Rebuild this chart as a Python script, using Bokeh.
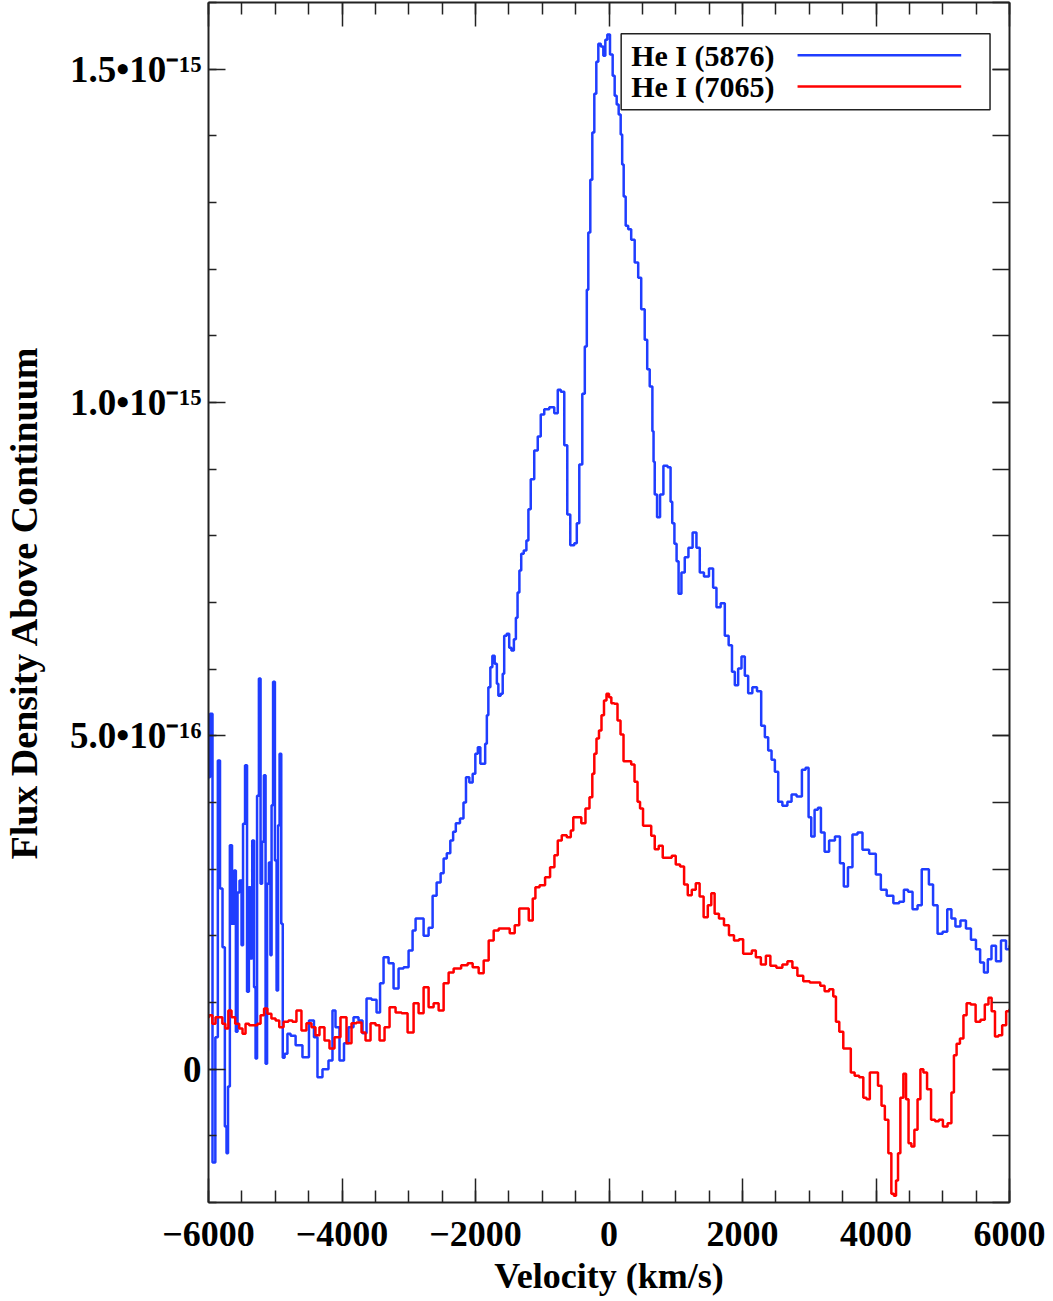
import numpy as np
from bokeh.plotting import figure
from bokeh.models import Range1d, LinearAxis, FixedTicker
from bokeh.core.properties import value
from bokeh.embed import file_html
from bokeh.resources import INLINE

# ---------------- data ----------------
X_TICKS = [-6000, -4000, -2000, 0, 2000, 4000, 6000]
X_TICK_LABELS = ["\u22126000", "\u22124000", "\u22122000", "0", "2000", "4000", "6000"]
Y_TICKS = [0.0, 5e-16, 1e-15, 1.5e-15]
Y_TICK_LABELS = ["0", "5.0\u202210\u207b\u00b9\u2076", "1.0\u202210\u207b\u00b9\u2075", "1.5\u202210\u207b\u00b9\u2075"]
SERIES_NAMES = ["He I (5876)", "He I (7065)"]
FLUX_UNIT = 1e-16  # values below are in units of 1e-16

BLUE_V = [-6020, -5995, -5960, -5920, -5875, -5845, -5810, -5770, -5740, -5720,
          -5695, -5665, -5630, -5605, -5575, -5555, -5515, -5495, -5470, -5435,
          -5410, -5380, -5360, -5330, -5305, -5285, -5260, -5230, -5210, -5185,
          -5155, -5135, -5110, -5080, -5065, -5045, -5020, -4990, -4970, -4945,
          -4925, -4895, -4880, -4840, -4795, -4745,
          -4645, -4540, -4450, -4390, -4345, -4240, -4165, -4120, -4075, -4000,
          -3940, -3865, -3790, -3715, -3670, -3595, -3520, -3445, -3415, -3340,
          -3265, -3190, -3115, -3040, -2965, -2920, -2875, -2815, -2740, -2665,
          -2620, -2545, -2500, -2455, -2405, -2350, -2320, -2270, -2195, -2165,
          -2120, -2065, -2020, -1985, -1945, -1910, -1870, -1840, -1820, -1795,
          -1760, -1735, -1690, -1670, -1645, -1600, -1585, -1555, -1510, -1480,
          -1445, -1405, -1385, -1355, -1330, -1300, -1255, -1220, -1195, -1150,
          -1090, -1045, -1000, -940, -850, -790, -745, -700, -640, -610,
          -550, -490, -475, -415, -385, -340, -325, -295, -265, -235,
          -205, -175, -145, -100, -70, -40, -10, 40, 70, 100,
          130, 160, 190, 205, 235, 265, 310, 355, 415, 460,
          505, 565, 580, 640, 660, 675, 695, 745, 785, 845,
          910, 935, 960, 1000, 1025, 1060, 1110, 1160, 1220, 1285,
          1335, 1385, 1460, 1535, 1585, 1635, 1710, 1760, 1825, 1860,
          1910, 1960, 2010, 2060, 2110, 2185, 2250, 2310, 2360, 2410,
          2460, 2510, 2560, 2635, 2710, 2760, 2860, 2920, 2970, 3010,
          3050, 3110, 3150, 3200, 3260, 3335, 3435, 3485, 3550, 3610,
          3685, 3760, 3835, 3960, 4035, 4110, 4210, 4310, 4385, 4450,
          4510, 4585, 4660, 4710, 4760, 4825, 4885, 4960, 5035, 5100,
          5160, 5220, 5310, 5385, 5460, 5535, 5585, 5650, 5700, 5760,
          5835, 5910, 5985, 6020]
BLUE_F = [0.28, 4.38, 5.33, -1.40, 0.48, 4.63, 2.71, 1.83, -0.86, -1.26,
          -0.26, 3.36, 2.18, 2.98, 0.56, 2.65, 2.83, 1.86, 3.68, 4.56,
          1.16, 2.73, 1.66, 3.43, 1.23, 0.16, 4.10, 5.86, 2.78, 3.41,
          4.41, 0.08, 2.78, 3.10, 1.71, 3.96, 5.81, 3.13, 1.18, 3.66,
          4.73, 2.18, 0.17, 0.23, 0.53, 0.50,
          0.36, 0.18, 0.73, 0.48, -0.12, 0.00, 0.13, 0.88, 0.63, 0.13,
          0.39, 0.63, 0.78, 0.73, 0.54, 1.06, 1.04, 0.85, 1.29, 1.68,
          1.59, 1.21, 1.51, 1.53, 1.78, 2.08, 2.26, 2.26, 2.00, 2.12,
          2.60, 2.80, 2.94, 3.16, 3.24, 3.43, 3.56, 3.69, 3.76, 4.00,
          4.38, 4.30, 4.43, 4.73, 4.83, 4.58, 4.58, 4.88, 5.31, 5.73,
          6.03, 6.20, 6.08, 5.78, 5.60, 5.63, 5.93, 6.50, 6.53, 6.32,
          6.28, 6.45, 6.77, 7.15, 7.48, 7.73, 7.78, 7.93, 8.40, 8.85,
          9.28, 9.49, 9.82, 9.90, 9.93, 9.84, 10.19, 10.16, 9.36, 8.32,
          7.86, 7.89, 8.19, 9.07, 10.13, 10.84, 11.69, 12.55, 13.34, 14.05,
          14.63, 15.11, 15.38, 15.34, 15.20, 15.44, 15.52, 15.22, 14.90, 14.60,
          14.47, 14.32, 14.02, 13.57, 13.09, 12.65, 12.60, 12.44, 12.10, 11.87,
          11.40, 10.94, 10.50, 10.24, 9.57, 9.11, 8.62, 8.28, 8.62, 9.05,
          9.03, 8.51, 8.19, 7.88, 7.62, 7.13, 7.45, 7.68, 7.82, 8.05,
          7.82, 7.45, 7.39, 7.51, 7.22, 6.93, 6.99, 6.50, 6.36, 5.96,
          5.76, 6.01, 6.19, 5.90, 5.64, 5.73, 5.67, 5.15, 4.98, 4.78,
          4.64, 4.46, 4.01, 3.95, 4.01, 4.12, 4.09, 4.49, 4.52, 3.78,
          3.49, 3.89, 3.92, 3.55, 3.26, 3.43, 3.49, 3.09, 2.74, 3.03,
          3.52, 3.55, 3.29, 3.23, 2.92, 2.69, 2.60, 2.49, 2.51, 2.69,
          2.66, 2.40, 2.46, 3.00, 3.00, 2.77, 2.46, 2.03, 2.06, 2.40,
          2.26, 2.14, 2.23, 2.11, 1.94, 1.80, 1.60, 1.45, 1.65, 1.85,
          1.62, 1.93, 1.80, 1.85]

RED_V = [-6020, -5965, -5920, -5870, -5815, -5770, -5725, -5680, -5630, -5570,
         -5510, -5470, -5420, -5365, -5290, -5245, -5195, -5140, -5095, -5020,
         -4970, -4910, -4840, -4765, -4720, -4645, -4570, -4495, -4420, -4375,
         -4300, -4225, -4150, -4075, -3970, -3895, -3820, -3745, -3670, -3625,
         -3520, -3475, -3400, -3325, -3250, -3145, -3070, -2965, -2890, -2815,
         -2740, -2665, -2590, -2515, -2440, -2365, -2290, -2140, -2095, -1990,
         -1915, -1840, -1765, -1690, -1615, -1525, -1450, -1375, -1315, -1240,
         -1165, -1120, -1085, -995, -920, -845, -790, -745, -670, -595,
         -550, -520, -445, -385, -320, -265, -235, -205, -170, -130,
         -95, -55, -20, 20, 50, 110, 145, 200, 235, 310,
         355, 410, 445, 485, 535, 610, 655, 715, 775, 835,
         910, 970, 1030, 1100, 1150, 1210, 1270, 1330, 1385, 1450,
         1510, 1555, 1610, 1685, 1760, 1835, 1910, 1985, 2035, 2110,
         2170, 2230, 2320, 2380, 2455, 2560, 2635, 2710, 2785, 2860,
         2960, 3055, 3130, 3200, 3260, 3335, 3385, 3415, 3485, 3535,
         3595, 3650, 3710, 3785, 3835, 3880, 3935, 4000, 4060, 4105,
         4160, 4210, 4250, 4285, 4315, 4345, 4385, 4435, 4465, 4510,
         4550, 4600, 4645, 4685, 4735, 4795, 4855, 4915, 4970, 5035,
         5110, 5150, 5185, 5230, 5285, 5335, 5380, 5455, 5530, 5600,
         5660, 5710, 5755, 5810, 5860, 5920, 5980, 6020]
RED_F = [0.78, 0.81, 0.68, 0.78, 0.78, 0.68, 0.61, 0.88, 0.78, 0.68,
         0.61, 0.53, 0.68, 0.66, 0.66, 0.68, 0.81, 0.91, 0.83, 0.76,
         0.73, 0.63, 0.71, 0.73, 0.71, 0.88, 0.58, 0.69, 0.63, 0.51,
         0.63, 0.43, 0.31, 0.48, 0.78, 0.39, 0.69, 0.70, 0.55, 0.43,
         0.69, 0.66, 0.43, 0.63, 0.93, 0.85, 0.84, 0.55, 0.99, 0.84,
         1.23, 0.93, 0.99, 0.88, 1.29, 1.45, 1.51, 1.56, 1.59, 1.53,
         1.44, 1.63, 1.93, 2.08, 2.11, 2.11, 2.04, 2.16, 2.41, 2.41,
         2.23, 2.56, 2.73, 2.76, 2.88, 3.03, 3.21, 3.43, 3.51, 3.48,
         3.58, 3.78, 3.78, 3.69, 3.91, 4.08, 4.43, 4.73, 4.96, 5.08,
         5.31, 5.53, 5.63, 5.58, 5.49, 5.48, 5.23, 5.02, 4.62, 4.62,
         4.57, 4.31, 4.01, 3.91, 3.65, 3.65, 3.50, 3.30, 3.35, 3.17,
         3.17, 3.20, 3.07, 3.04, 2.77, 2.61, 2.69, 2.79, 2.59, 2.28,
         2.46, 2.64, 2.33, 2.26, 2.16, 2.01, 1.93, 1.95, 1.73, 1.73,
         1.78, 1.68, 1.57, 1.70, 1.55, 1.52, 1.57, 1.62, 1.52, 1.40,
         1.32, 1.30, 1.30, 1.25, 1.17, 1.20, 1.09, 0.71, 0.56, 0.31,
         0.31, -0.05, -0.10, -0.12, -0.43, -0.45, -0.05, -0.05, -0.25, -0.55,
         -0.76, -1.26, -1.87, -1.90, -1.67, -1.26, -0.43, -0.07, -0.45, -1.11,
         -1.16, -0.91, -0.45, 0.00, -0.05, -0.30, -0.76, -0.78, -0.76, -0.86,
         -0.81, -0.35, 0.21, 0.38, 0.46, 0.81, 0.99, 0.97, 0.71, 0.74,
         0.97, 1.07, 0.87, 0.49, 0.51, 0.66, 0.87, 0.90]

# ---------------- styling ----------------
BLUE = "#1f3dff"
RED = "#ff0000"
FONT = "Liberation Serif"
X_MIN, X_MAX = -6000, 6000
Y_MIN, Y_MAX = -2.0e-16, 1.6e-15

p = figure(width=1053, height=1301, output_backend="svg", toolbar_location=None,
           x_range=Range1d(X_MIN, X_MAX), y_range=Range1d(Y_MIN, Y_MAX),
           x_axis_location=None, y_axis_location=None)
p.min_border_left = 208
p.min_border_right = 44
p.min_border_top = 2
p.min_border_bottom = 99
p.outline_line_color = None
p.xgrid.visible = False
p.ygrid.visible = False
p.background_fill_color = "white"
p.border_fill_color = "white"

x_ticker = FixedTicker(ticks=X_TICKS, minor_ticks=list(range(-6000, 6001, 500)))
y_ticker = FixedTicker(ticks=Y_TICKS, minor_ticks=[k * 1e-16 for k in range(-2, 17)])


def style(ax, major_in, minor_in, show_labels):
    ax.axis_line_color = "#222222"
    ax.axis_line_width = 2
    ax.major_tick_in = major_in
    ax.major_tick_out = 0
    ax.minor_tick_in = minor_in
    ax.minor_tick_out = 0
    ax.major_tick_line_color = "#222222"
    ax.minor_tick_line_color = "#222222"
    ax.major_tick_line_width = 1.5
    ax.minor_tick_line_width = 1.5
    ax.major_label_text_font = FONT
    ax.major_label_text_font_style = "bold"
    ax.major_label_text_color = "black"
    ax.axis_label_text_font = FONT
    ax.axis_label_text_font_style = "bold"
    ax.axis_label_text_color = "black"
    if not show_labels:
        # mirrored frame axis: ticks only
        ax.major_label_text_font_size = "0px"
        ax.major_label_standoff = 0
        ax.axis_label_standoff = 0


xb = LinearAxis(ticker=x_ticker, axis_label="Velocity (km/s)")
style(xb, 24, 12, True)
xb.major_label_overrides = dict(zip(X_TICKS, X_TICK_LABELS))
xb.major_label_text_font_size = "36px"
xb.axis_label_text_font_size = "36px"
xb.major_label_standoff = 19
xb.axis_label_standoff = 7
p.add_layout(xb, "below")

xt = LinearAxis(ticker=x_ticker)
style(xt, 24, 12, False)
p.add_layout(xt, "above")

yl = LinearAxis(ticker=y_ticker, axis_label="Flux Density Above Continuum")
style(yl, 17, 8, True)
yl.major_label_overrides = dict(zip(Y_TICKS, Y_TICK_LABELS))
yl.major_label_text_font_size = "37px"
yl.axis_label_text_font_size = "38px"
yl.major_label_standoff = 7
yl.axis_label_standoff = 22
p.add_layout(yl, "left")

yr = LinearAxis(ticker=y_ticker)
style(yr, 17, 17, False)
p.add_layout(yr, "right")

# ---------------- spectra ----------------
bv = np.array(BLUE_V, dtype=float)
bf = np.array(BLUE_F) * FLUX_UNIT
rv = np.array(RED_V, dtype=float)
rf = np.array(RED_F) * FLUX_UNIT

p.step(bv, bf, mode="center", line_color=BLUE, line_width=2.5)
p.step(rv, rf, mode="center", line_color=RED, line_width=2.5)

# ---------------- legend (text left, sample line right) ----------------
xs = X_MAX - X_MIN
ys = Y_MAX - Y_MIN
leg_left = X_MIN + 0.5152 * xs
leg_right = X_MIN + 0.9757 * xs
leg_top = Y_MIN + 0.9739 * ys
leg_bottom = Y_MIN + 0.9106 * ys
row_y = [Y_MIN + 0.9560 * ys, Y_MIN + 0.9300 * ys]
text_x = X_MIN + 0.5277 * xs
line_x0 = X_MIN + 0.7354 * xs
line_x1 = X_MIN + 0.9397 * xs

p.quad(left=[leg_left], right=[leg_right], top=[leg_top], bottom=[leg_bottom],
       fill_color="white", line_color="#222222", line_width=1.5)
p.text(x=[text_x, text_x], y=row_y, text=SERIES_NAMES,
       text_font=value(FONT), text_font_style="bold", text_font_size="30px",
       text_baseline="middle", text_align="left", text_color="black")
p.segment(x0=[line_x0, line_x0], y0=row_y, x1=[line_x1, line_x1], y1=row_y,
          line_color=[BLUE, RED], line_width=2.5)

open("out.html", "w").write(file_html(p, INLINE))
